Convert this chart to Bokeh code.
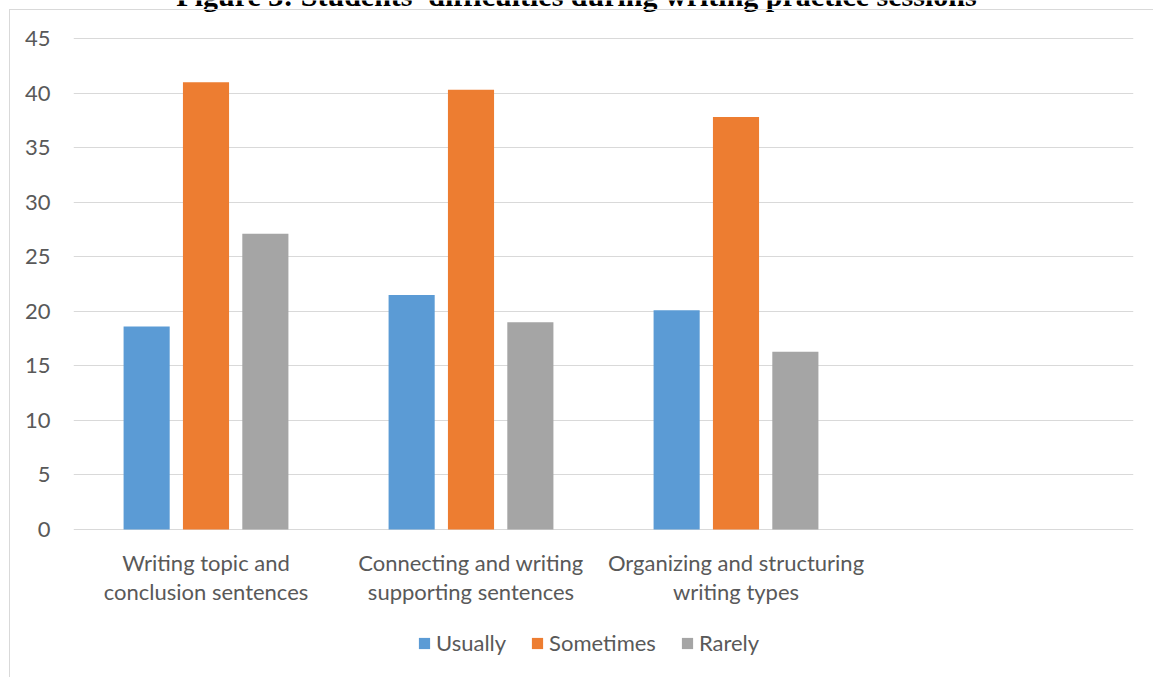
from bokeh.plotting import figure
from bokeh.models import (FactorRange, Legend, LegendItem, Label, FixedTicker,
                          ColumnDataSource, InlineStyleSheet)
from bokeh.core.properties import value
from bokeh.transform import dodge
from bokeh.embed import file_html
from bokeh.resources import INLINE

title_text = "Figure 3: Students' difficulties during writing practice sessions"
categories = [
    "Writing topic and\nconclusion sentences",
    "Connecting and writing\nsupporting sentences",
    "Organizing and structuring\nwriting types",
]
axis_factors = categories + [" "]
series = ["Usually", "Sometimes", "Rarely"]
usually = [18.6, 21.5, 20.1]
sometimes = [41.0, 40.3, 37.8]
rarely = [27.1, 19.0, 16.3]
colors = ["#5B9BD5", "#ED7D31", "#A5A5A5"]
y_ticks = [0, 5, 10, 15, 20, 25, 30, 35, 40, 45]

FONT = "Lato"
TXT = "#595959"
GRID = "#D9D9D9"

# The frame fills the canvas height: value 0 sits 529px from the top, 45 sits 38px from the top.
PX_PER_UNIT = 491 / 45
Y_MAX = 45 + 38 / PX_PER_UNIT
Y_MIN = -(677 - 529) / PX_PER_UNIT

src = ColumnDataSource(dict(cat=categories, Usually=usually, Sometimes=sometimes, Rarely=rarely,
                            base=[0] * len(categories)))

p = figure(width=1153, height=677,
           x_range=FactorRange(*axis_factors, range_padding=0),
           y_range=(Y_MIN, Y_MAX), output_backend="svg", toolbar_location=None,
           min_border_left=73, min_border_right=20, min_border_top=0, min_border_bottom=0)
p.outline_line_color = None
p.background_fill_color = "white"
p.border_fill_color = "white"

renderers = []
offsets = [-0.224, 0.0, 0.224]
for s, c, off in zip(series, colors, offsets):
    r = p.vbar(x=dodge("cat", off, range=p.x_range), top=s, bottom=0, width=0.174, source=src,
               fill_color=c, line_color=None)
    renderers.append(r)

p.xgrid.grid_line_color = None
p.ygrid.grid_line_color = GRID
p.ygrid.grid_line_width = 1
p.yaxis.ticker = FixedTicker(ticks=y_ticks)
p.yaxis.axis_line_color = None
p.yaxis.major_tick_line_color = None
p.yaxis.minor_tick_line_color = None
p.yaxis.major_label_standoff = 17
p.yaxis.major_label_text_font = FONT
p.yaxis.major_label_text_font_size = "22px"
p.yaxis.major_label_text_color = TXT

# category labels under the zero line (placed through the categorical scale)
p.xaxis.visible = False
p.text(x="cat", y="base", text="cat", source=src, y_offset=19,
       text_align="center", text_baseline="top", text_font=value(FONT),
       text_font_size=value("22px"), text_line_height=1.08, text_color=TXT)

legend = Legend(items=[LegendItem(label=s, renderers=[r]) for s, r in zip(series, renderers)],
                orientation="horizontal", location=(344, 21),
                glyph_width=14, glyph_height=14, label_standoff=5, spacing=24,
                padding=0, margin=0, border_line_color=None, background_fill_alpha=0,
                label_text_font=FONT, label_text_font_size="22px", label_text_color=TXT)
p.add_layout(legend, "center")

title = Label(x=503, y=682, x_units="screen", y_units="screen", text=title_text,
              text_font="Liberation Serif", text_font_style="bold", text_font_size="30px",
              text_align="center", text_baseline="alphabetic", text_color="black")
p.add_layout(title)

# light chart-area border (left and top edges only are inside the window)
p.stylesheets = [InlineStyleSheet(css="""
:host { position: relative; }
:host::after {
  content: ""; position: absolute; left: 9px; top: 9px; width: 1200px; height: 700px;
  border-left: 1.5px solid #D9D9D9; border-top: 1.5px solid #D9D9D9;
  pointer-events: none; z-index: 5;
}
""")]

open("out.html", "w").write(file_html(p, INLINE))
